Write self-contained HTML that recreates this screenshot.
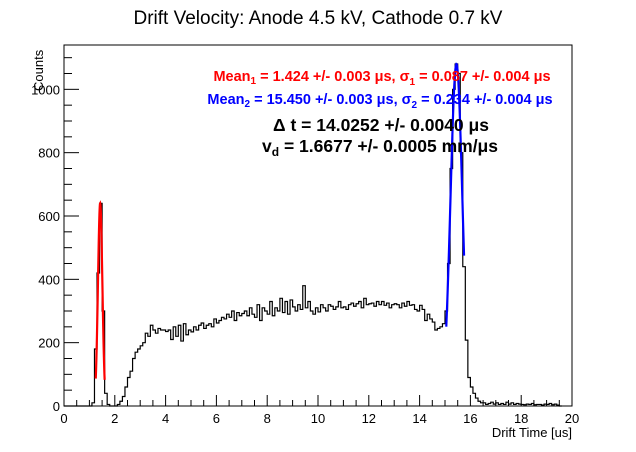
<!DOCTYPE html>
<html><head><meta charset="utf-8"><style>
body{margin:0;background:#fff;}
svg{display:block;font-family:"Liberation Sans",sans-serif;}
</style></head><body>
<svg id="c" width="636" height="452">
<text x="318" y="24" font-size="19" text-anchor="middle">Drift Velocity: Anode 4.5 kV, Cathode 0.7 kV</text>
<rect x="64" y="45" width="508" height="361" fill="none" stroke="#000" stroke-width="1"/>
<g id="ticks"></g>
<g id="hist"></g>
<g id="fits"></g>
<text x="572" y="437" font-size="13" text-anchor="end">Drift Time [us]</text>
<text transform="translate(43,91) rotate(-90)" font-size="13">Counts</text>
<g font-weight="bold" font-size="14.5">
<text x="382" y="81" fill="#f00" text-anchor="middle">Mean<tspan font-size="10" dy="3">1</tspan><tspan dy="-3"> = 1.424 +/- 0.003  μs,  σ</tspan><tspan font-size="10" dy="4">1</tspan><tspan dy="-4"> = 0.087 +/- 0.004  μs</tspan></text>
<text x="380" y="104" fill="#00f" text-anchor="middle">Mean<tspan font-size="10" dy="3">2</tspan><tspan dy="-3"> = 15.450 +/- 0.003  μs,  σ</tspan><tspan font-size="10" dy="4">2</tspan><tspan dy="-4"> = 0.234 +/- 0.004  μs</tspan></text>
<text x="381" y="131" font-size="17.5" text-anchor="middle">Δ t = 14.0252 +/- 0.0040  μs</text>
<text x="380" y="152" font-size="17.5" text-anchor="middle">v<tspan font-size="12" dy="4">d</tspan><tspan dy="-4"> = 1.6677 +/- 0.0005 mm/μs</tspan></text>
</g>
</svg>
<script>
const binStart = 0, binWidth = 0.1;
const counts = [
0,0,0,0,0,0,0,0,0,0, 0,10,180,420,640,300,40,5,0,0,
0,5,15,30,60,90,110,150,170,180, 190,200,230,220,255,240,230,245,240,240,
235,240,210,250,220,255,205,260,225,240, 234,250,240,255,262,245,255,260,250,275,
262,270,280,275,290,280,300,270,295,285, 292,300,285,310,290,280,320,270,310,300,
290,330,285,310,300,340,295,330,290,335, 313,300,320,305,380,310,330,300,290,310,
297,320,310,300,320,315,305,313,330,310, 313,305,320,325,315,323,330,310,340,320,
323,325,315,330,320,330,318,325,310,320, 323,320,310,325,315,330,318,320,305,300,
318,305,270,290,275,265,240,245,250,260, 300,450,750,1000,1080,1050,800,440,208,90,
60,40,25,15,10,10,5,8,12,6, 10,5,8,5,12,6,10,5,8,6, 5,4,6,5,8,4,5,5,3,6,
5,8,4,6,3,0
];
const xTicks = [0,2,4,6,8,10,12,14,16,18,20];
const yTicks = [0,200,400,600,800,1000];
const fitMeans = [1.424, 15.45];
const fitSigmas = [0.087, 0.234];
const fitAmps = [640, 1080];
const fitRanges = [[1.25,1.6],[15.05,15.75]];
const fitColors = ['#f00','#00f'];

const X0=64,X1=572,Y0=406,Y1=45,XMIN=0,XMAX=20,YMAX=1140;
const sx=v=>X0+(v-XMIN)/(XMAX-XMIN)*(X1-X0);
const sy=v=>Y0-v/YMAX*(Y0-Y1);
const NS='http://www.w3.org/2000/svg';
function mk(tag,attrs,parent){const e=document.createElementNS(NS,tag);for(const k in attrs)e.setAttribute(k,attrs[k]);parent.appendChild(e);return e;}

const tg=document.getElementById('ticks');
for(let v=0;v<=20.001;v+=0.5){
  const major=Math.abs(v/2-Math.round(v/2))<1e-6;
  const l=mk('line',{x1:sx(v),x2:sx(v),y1:Y0,y2:Y0-(major?11:6),stroke:'#000'},tg);
  
  
}
xTicks.forEach(v=>{
  const t=mk('text',{x:sx(v),y:Y0+17,'font-size':13,'text-anchor':'middle'},tg);
  t.textContent=v;
  
  
});
for(let v=0;v<=YMAX;v+=50){
  const major=v%200===0;
  const l=mk('line',{x1:X0,x2:X0+(major?15:8),y1:sy(v),y2:sy(v),stroke:'#000'},tg);
  
  
}
yTicks.forEach(v=>{
  const t=mk('text',{x:X0-4,y:sy(v)+5,'font-size':13,'text-anchor':'end'},tg);
  t.textContent=v;
  
  
});

let d='M'+sx(binStart)+','+sy(0);
counts.forEach((c,i)=>{
  const a=binStart+i*binWidth,b=a+binWidth;
  d+=' L'+sx(a)+','+sy(c)+' L'+sx(b)+','+sy(c);
});
const hp=mk('path',{d:d,fill:'none',stroke:'#000','stroke-width':1.2},document.getElementById('hist'));



const fg=document.getElementById('fits');
fitMeans.forEach((m,k)=>{
  let p='';
  const [a,b]=fitRanges[k];
  for(let i=0;i<=60;i++){
    const x=a+(b-a)*i/60;
    const y=fitAmps[k]*Math.exp(-0.5*Math.pow((x-m)/fitSigmas[k],2));
    p+=(i?' L':'M')+sx(x).toFixed(2)+','+sy(y).toFixed(2);
  }
  const f=mk('path',{d:p,fill:'none',stroke:fitColors[k],'stroke-width':2.2},fg);
  
  
});
</script>
</body></html>
